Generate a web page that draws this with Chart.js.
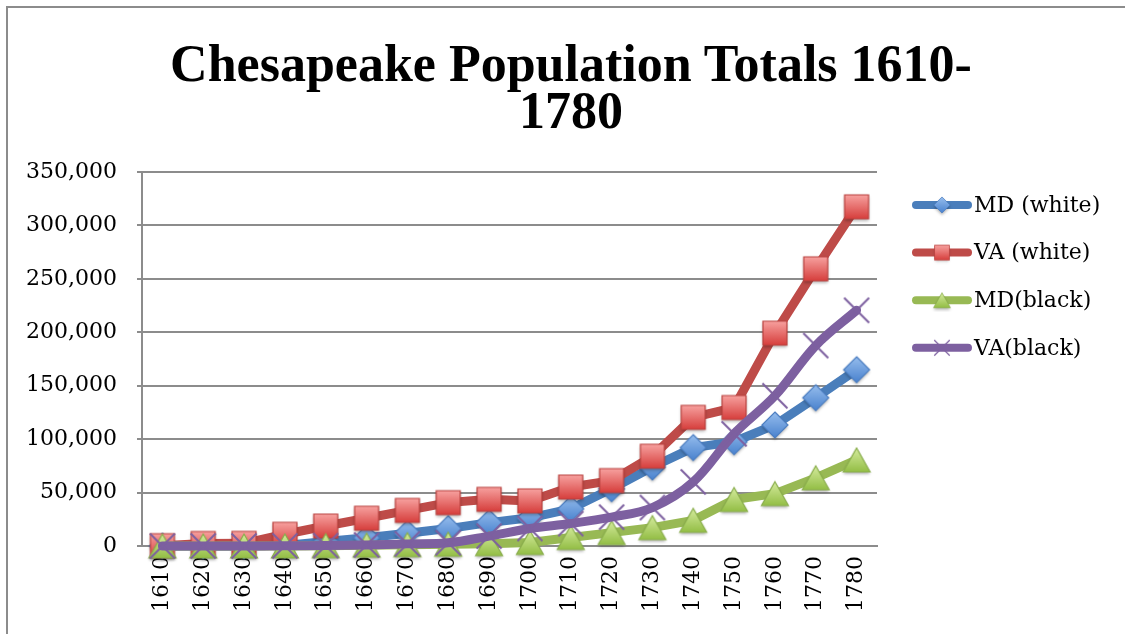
<!DOCTYPE html>
<html>
<head>
<meta charset="utf-8">
<script src="https://cdn.jsdelivr.net/npm/chart.js@4.4.0/dist/chart.umd.min.js"></script>
<style>
    html, body { margin: 0; padding: 0; background: #fff; overflow: hidden; }
    #grafico { position: absolute; left: 0; top: 0; width: 1125px; height: 634px; }
    #marco {
        position: absolute; left: 6px; top: 6px; width: 1140px; height: 640px;
        border-left: 2px solid #8c8c8c; border-top: 2px solid #8c8c8c; pointer-events: none;
    }
    #titulo {
        position: absolute; left: 0; top: 40px; width: 1142px; text-align: center;
        font: bold 52px/47px "Liberation Serif", serif; color: #000;
    }
</style>
</head>
<body>
<canvas id="grafico" width="1125" height="634"></canvas>
<div id="marco"></div>
<div id="titulo">Chesapeake Population Totals 1610-<br>1780</div>
<script>
const anos = ['1610', '1620', '1630', '1640', '1650', '1660', '1670', '1680', '1690',
              '1700', '1710', '1720', '1730', '1740', '1750', '1760', '1770', '1780'];

const mdBrancos = [0, 0, 0, 600, 4200, 7700, 12000, 16300, 21900, 26400, 34800, 53600,
                   73900, 92100, 97600, 113300, 138800, 165000];
const vaBrancos = [350, 2400, 2500, 11000, 18700, 26000, 33300, 40600, 43700, 42200, 55200, 61200,
                   84000, 120400, 129600, 199200, 259400, 317400];
const mdNegros = [0, 0, 0, 20, 300, 760, 1190, 1610, 2160, 3230, 7950, 12500,
                  17200, 24000, 43500, 49000, 63800, 80500];
const vaNegros = [0, 30, 50, 150, 400, 950, 2000, 3000, 9300, 16400, 21000, 27000,
                  36000, 60000, 105000, 140600, 187600, 220600];

const nomesSeries = ['MD (white)', 'VA (white)', 'MD(black)', 'VA(black)'];
const marcasEixoY = [0, 50000, 100000, 150000, 200000, 250000, 300000, 350000];

// desenha o marcador de cada série num canvas pequeno (com gradiente, como no Excel)
function criarMarcador(tipo, escala) {
    const c = document.createElement('canvas');
    const lado = Math.ceil(38 * escala);
    c.width = lado;
    c.height = lado;
    const g = c.getContext('2d');
    g.translate(lado / 2, lado / 2);
    g.scale(escala, escala);

    if (tipo === 'cruz') {
        g.strokeStyle = '#7D60A0';
        g.lineWidth = 2;
        g.beginPath();
        g.moveTo(-12.5, -12.5); g.lineTo(12.5, 12.5);
        g.moveTo(12.5, -12.5); g.lineTo(-12.5, 12.5);
        g.stroke();
        return c;
    }

    let cores;
    g.beginPath();
    if (tipo === 'diamante') {
        g.moveTo(0, -13); g.lineTo(13, 0); g.lineTo(0, 13); g.lineTo(-13, 0);
        cores = ['#93BBEC', '#4C84CF', '#4B7DC0'];
    } else if (tipo === 'quadrado') {
        g.rect(-12, -12, 24, 24);
        cores = ['#F7A19F', '#D63E3C', '#B9413E'];
    } else {
        g.moveTo(0, -12); g.lineTo(13.5, 12); g.lineTo(-13.5, 12);
        cores = ['#D5EB9E', '#93BE45', '#8AAE4C'];
    }
    g.closePath();
    const grad = g.createLinearGradient(0, -12, 0, 12);
    grad.addColorStop(0, cores[0]);
    grad.addColorStop(1, cores[1]);
    g.save();
    g.shadowColor = 'rgba(0,0,0,0.3)';
    g.shadowBlur = 3;
    g.shadowOffsetY = 2;
    g.fillStyle = grad;
    g.fill();
    g.restore();
    g.strokeStyle = cores[2];
    g.lineWidth = 1.2;
    g.stroke();
    return c;
}

const tiposMarcador = ['diamante', 'quadrado', 'triangulo', 'cruz'];
const coresLinha = ['#4A7EBB', '#BE4B48', '#98B954', '#7D60A0'];
const marcadores = tiposMarcador.map(function (t) { return criarMarcador(t, 1); });
const marcadoresLegenda = tiposMarcador.map(function (t) { return criarMarcador(t, 0.62); });

// legenda à direita: linha grossa com o marcador ao meio, como no Excel
const legendaLateral = {
    id: 'legendaLateral',
    afterDraw(chart) {
        const ctx = chart.ctx;
        const area = chart.chartArea;
        const x0 = area.right + 35;
        ctx.save();
        ctx.font = '22px "DejaVu Serif"';
        ctx.textBaseline = 'middle';
        ctx.fillStyle = '#000';
        chart.data.datasets.forEach(function (ds, i) {
            const y = area.top + 33 + i * 47.6;
            ctx.strokeStyle = ds.borderColor;
            ctx.lineWidth = 8;
            ctx.lineCap = 'round';
            ctx.beginPath();
            ctx.moveTo(x0 + 4, y);
            ctx.lineTo(x0 + 56, y);
            ctx.stroke();
            const m = marcadoresLegenda[i];
            ctx.drawImage(m, x0 + 30 - m.width / 2, y - m.height / 2);
            ctx.fillText(ds.label, x0 + 62, y + 1);
        });
        ctx.restore();
    }
};

document.addEventListener("DOMContentLoaded", function () {
    Chart.defaults.font.family = '"DejaVu Serif", serif';
    Chart.defaults.color = '#000';

    const series = [mdBrancos, vaBrancos, mdNegros, vaNegros];
    const ctx = document.getElementById('grafico').getContext('2d');

    new Chart(ctx, {
        type: 'line',
        data: {
            labels: anos,
            datasets: series.map(function (valores, i) {
                return {
                    label: nomesSeries[i],
                    data: valores,
                    borderColor: coresLinha[i],
                    backgroundColor: coresLinha[i],
                    borderWidth: 9,
                    borderJoinStyle: 'round',
                    borderCapStyle: 'round',
                    pointStyle: marcadores[i],
                    pointRadius: 12,
                    tension: i === 3 ? 0.35 : 0,
                    order: 4 - i,
                    clip: false
                };
            })
        },
        options: {
            responsive: false,
            animation: false,
            layout: { padding: { left: 6, right: 248, top: 172, bottom: 12 } },
            plugins: {
                legend: { display: false },
                tooltip: { enabled: false },
                title: { display: false }
            },
            scales: {
                x: {
                    offset: true,
                    grid: { display: false, drawTicks: false },
                    border: { display: true, color: '#8c8c8c', width: 2 },
                    ticks: {
                        minRotation: 90,
                        maxRotation: 90,
                        padding: 10,
                        font: { size: 22 }
                    }
                },
                y: {
                    min: 0,
                    max: 350000,
                    afterBuildTicks: function (eixo) {
                        eixo.ticks = marcasEixoY.map(function (v) { return { value: v }; });
                    },
                    grid: { color: '#8c8c8c', lineWidth: 2, tickLength: 5 },
                    border: { display: true, color: '#8c8c8c', width: 2 },
                    ticks: {
                        padding: 20,
                        font: { size: 22 },
                        callback: function (v) { return v.toLocaleString('en-US'); }
                    }
                }
            }
        },
        plugins: [legendaLateral]
    });
});
</script>
</body>
</html>
